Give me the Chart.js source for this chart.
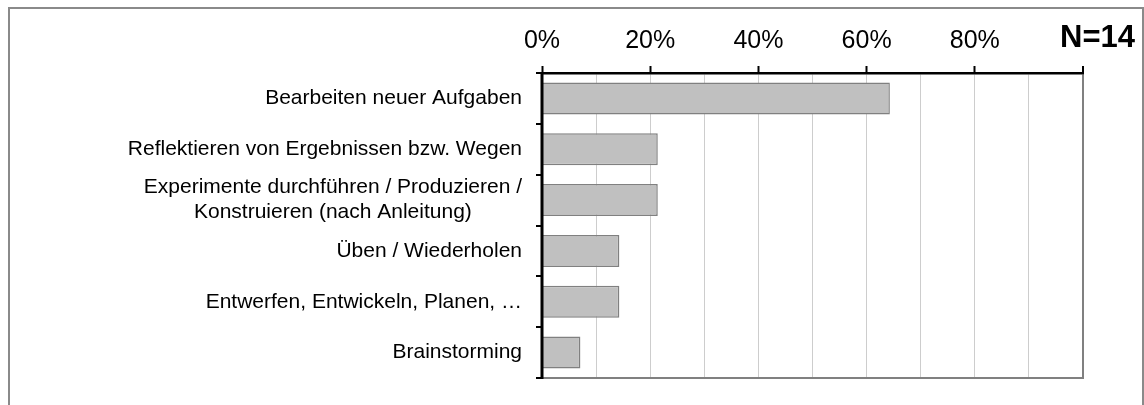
<!DOCTYPE html>
<html>
<head>
<meta charset="utf-8">
<script src="https://cdn.jsdelivr.net/npm/chart.js@4"></script>
<style>
  body { margin: 0; background: #fff; }
  canvas { display: block; }
</style>
</head>
<body>
<canvas id="chart" width="1144" height="405"></canvas>
<script>
const categories = [
    'Bearbeiten neuer Aufgaben',
    'Reflektieren von Ergebnissen bzw. Wegen',
    ['Experimente durchführen / Produzieren /', 'Konstruieren (nach Anleitung)'],
    'Üben / Wiederholen',
    'Entwerfen, Entwickeln, Planen, …',
    'Brainstorming'
];
const shares = [64.3, 21.4, 21.4, 14.3, 14.3, 7.1]; // percent of N=14
const sampleLabel = 'N=14';

const FONT = "'Liberation Sans', Arial, sans-serif";

// Draws the outer frame, the plot frame, the category axis and N=14
const decorations = {
    id: 'decorations',
    beforeDraw(chart) {
        const c = chart.ctx;
        c.save();
        c.strokeStyle = '#8a8a8a';
        c.lineWidth = 2;
        c.strokeRect(9, 8, 1134, 430);
        c.restore();
    },
    afterDraw(chart) {
        const c = chart.ctx;
        const area = chart.chartArea;
        const yScale = chart.scales.y;
        const xScale = chart.scales.x;

        // gray bottom edge of the plot
        c.save();
        c.strokeStyle = '#808080';
        c.lineWidth = 2;
        c.beginPath();
        c.moveTo(area.left, area.bottom);
        c.lineTo(area.right + 1, area.bottom);
        c.stroke();

        // black category axis with ticks between the categories
        const step = yScale.getPixelForValue(1) - yScale.getPixelForValue(0);
        c.strokeStyle = '#000';
        c.lineWidth = 2;
        c.beginPath();
        for (let i = 0; i <= categories.length; i++) {
            const y = Math.round(yScale.getPixelForValue(i) - step / 2);
            c.moveTo(area.left - 6, y);
            c.lineTo(area.left, y);
        }
        c.stroke();
        c.lineWidth = 3;
        c.beginPath();
        c.moveTo(area.left, area.top - 1);
        c.lineTo(area.left, area.bottom + 1);
        c.stroke();

        // category labels, block right aligned, lines centred
        c.font = '21px ' + FONT;
        c.fillStyle = '#000';
        c.textBaseline = 'middle';
        c.textAlign = 'center';
        const rightEdge = area.left - 20;
        const lineHeight = 25;
        categories.forEach((label, i) => {
            const lines = Array.isArray(label) ? label : [label];
            const blockW = Math.max(...lines.map(l => c.measureText(l).width));
            const cx = rightEdge - blockW / 2;
            const y0 = yScale.getPixelForValue(i) - (lines.length - 1) * lineHeight / 2;
            lines.forEach((l, j) => c.fillText(l, cx, y0 + j * lineHeight));
        });

        // N=14 in place of the 100% label
        c.font = 'bold 31px ' + FONT;
        c.textAlign = 'right';
        c.textBaseline = 'alphabetic';
        c.fillText(sampleLabel, xScale.getPixelForValue(100) + 52, 47);
        c.restore();
    }
};

new Chart(document.getElementById('chart'), {
    type: 'bar',
    data: {
        labels: categories,
        datasets: [{
            data: shares,
            backgroundColor: '#c0c0c0',
            borderColor: '#808080',
            borderWidth: 1.5,
            barPercentage: 0.63,
            categoryPercentage: 1
        }]
    },
    options: {
        indexAxis: 'y',
        responsive: false,
        animation: false,
        devicePixelRatio: 1,
        layout: { padding: { left: 0, top: 0, right: 61, bottom: 27 } },
        plugins: {
            legend: { display: false },
            tooltip: { enabled: false }
        },
        scales: {
            x: {
                position: 'top',
                min: 0,
                max: 100,
                afterFit(scale) { scale.height = 73; },
                border: { color: '#000', width: 2.5 },
                grid: {
                    color: (ctx) => ctx.tick.value === 0 ? 'rgba(0,0,0,0)' : (ctx.tick.value === 100 ? '#808080' : '#cdcdcd'),
                    lineWidth: (ctx) => ctx.tick.value === 100 ? 2 : 1,
                    tickColor: (ctx) => ctx.tick.value % 20 === 0 ? '#000' : 'rgba(0,0,0,0)',
                    tickWidth: 2,
                    tickLength: 7
                },
                ticks: {
                    stepSize: 10,
                    autoSkip: false,
                    maxRotation: 0,
                    padding: 10,
                    color: '#000',
                    font: { family: FONT, size: 25 },
                    callback: (v) => (v % 20 === 0 && v < 100) ? v + '%' : ''
                }
            },
            y: {
                afterFit(scale) { scale.width = 542; },
                border: { display: false },
                grid: { display: false },
                ticks: {
                    color: 'rgba(0,0,0,0)',
                    font: { family: FONT, size: 21 }
                }
            }
        }
    },
    plugins: [decorations]
});
</script>
</body>
</html>
